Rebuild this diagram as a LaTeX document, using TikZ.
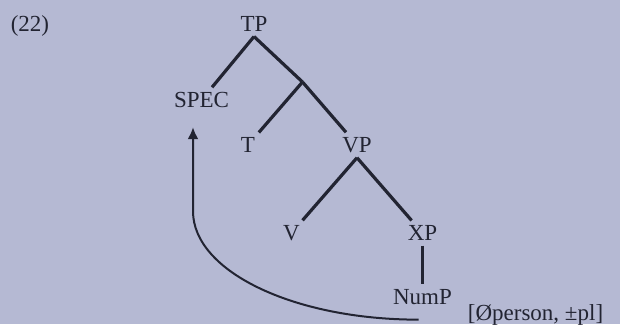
\documentclass[tikz,border=0pt]{standalone}
\usepackage{fontspec}
\setmainfont{Liberation Serif}
\usepackage{tikz}
\usetikzlibrary{arrows.meta}
\definecolor{paper}{RGB}{181,185,211}
\definecolor{ink}{RGB}{34,36,50}
\tikzset{
    treenode/.style = {
        align=center,
        text=ink,
        font=\fontsize{23}{27}\selectfont,
        inner sep=3pt,
        outer sep=2pt
    },
    branchnode/.style = {
        inner sep=0pt,
        outer sep=0pt,
        minimum size=0pt
    },
    featurenode/.style = {
        treenode,
        anchor=base west
    },
    movearrow/.style = {
        draw=ink,
        line width=2pt,
        -{Latex[length=12pt,width=11pt]}
    }
}

\begin{document}
\begin{tikzpicture}[
        line width=3.2pt,
        parent anchor=south,
        edge from parent/.style={draw=ink},
        level 1/.style={sibling distance=97pt, level distance=58pt},
        level 2/.style={sibling distance=109pt, level distance=63pt},
        level 3/.style={sibling distance=131pt, level distance=88pt},
        level 4/.style={level distance=64pt}
    ]
    \fill[paper] (0,0) rectangle (620pt,-324pt);
    \node [treenode] (ex) at (30pt,-26pt) {(22)};
    \node [treenode] (tp) at (254pt,-24pt) {TP}
        child{ node [treenode, xshift=-4pt, yshift=-18pt] (spec) {SPEC} }
        child{ node [branchnode] (tbar) {}
            child{ node [treenode] (t) {T} }
            child{ node [treenode] (vp) {VP}
                child{ node [treenode] (v) {V} }
                child{ node [treenode] (xp) {XP}
                    child{ node [treenode] (nump) {NumP} }
                }
            }
        };
    \node [featurenode] (feat) at ([xshift=6pt,yshift=-16pt]nump.base east) {[Øperson, ±pl]};
    \coordinate (landing) at ([xshift=-8.5pt,yshift=-14.5pt]spec.south);
    \draw [movearrow] ([xshift=-4pt,yshift=-10pt]nump.south) .. controls +(-125pt,0pt) and +(0pt,-60pt) .. ([yshift=-84pt]landing) -- (landing);
\end{tikzpicture}
\end{document}
